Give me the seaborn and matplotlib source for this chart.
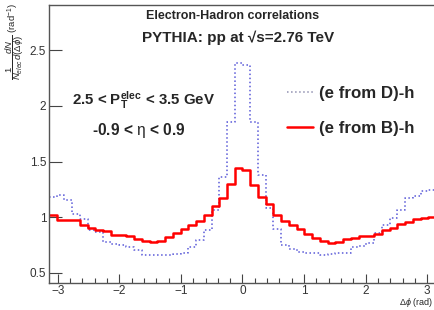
import numpy as np
import pandas as pd
import matplotlib
matplotlib.use("Agg")
import matplotlib.pyplot as plt
import seaborn as sns
from matplotlib.lines import Line2D
from matplotlib.ticker import MultipleLocator, FuncFormatter

# 50 bins over [-pi, pi]
n_bins = 50
edges = np.linspace(-np.pi, np.pi, n_bins + 1)
centers = 0.5 * (edges[:-1] + edges[1:])

# (e from B)-h
b_vals = [1.02, 0.975, 0.975, 0.97, 0.93, 0.90, 0.885, 0.875, 0.835, 0.835,
          0.83, 0.80, 0.785, 0.78, 0.785, 0.82, 0.855, 0.89, 0.93, 0.965,
          1.02, 1.10, 1.17, 1.30, 1.44, 1.42, 1.285, 1.178, 1.12, 1.02,
          0.965, 0.929, 0.893, 0.845, 0.809, 0.788, 0.767, 0.779, 0.80, 0.809,
          0.833, 0.827, 0.845, 0.884, 0.905, 0.935, 0.959, 0.98, 0.995, 1.004]
# (e from D)-h
d_vals = [1.178, 1.199, 1.15, 1.025, 0.985, 0.885, 0.87, 0.78, 0.758, 0.749,
          0.734, 0.704, 0.66, 0.66, 0.66, 0.66, 0.668, 0.68, 0.734, 0.794,
          0.884, 1.064, 1.363, 1.858, 2.383, 2.368, 1.858, 1.379, 1.079, 0.89,
          0.749, 0.713, 0.683, 0.674, 0.674, 0.659, 0.668, 0.68, 0.68, 0.728,
          0.74, 0.77, 0.854, 0.929, 0.989, 1.064, 1.175, 1.19, 1.235, 1.244]

labels = ["(e from D)-h", "(e from B)-h"]

df = pd.DataFrame({'dphi': centers, 'B': b_vals, 'D': d_vals})

sns.set_style("white")
plt.rcParams['font.family'] = ['Liberation Sans', 'DejaVu Sans']
plt.rcParams['mathtext.fontset'] = 'custom'
plt.rcParams['mathtext.rm'] = 'Liberation Sans'
plt.rcParams['mathtext.bf'] = 'Liberation Sans:bold'
plt.rcParams['mathtext.it'] = 'Liberation Sans:italic'

W, H = 435, 310
fig = plt.figure(figsize=(W / 100, H / 100), dpi=100)
ax = fig.add_axes([49 / W, 26.7 / H, 387 / W, 278.6 / H])

blue = '#5a5ad8'
red = '#ff0000'
sns.histplot(data=df, x='dphi', weights='D', bins=list(edges), element="step",
             fill=False, color=blue, linestyle=':', linewidth=1.1, ax=ax)
sns.histplot(data=df, x='dphi', weights='B', bins=list(edges), element="step",
             fill=False, color=red, linewidth=1.8, ax=ax)

ax.set_xlim(-np.pi, np.pi)
ax.set_ylim(0.405, 2.91)
ax.set_xlabel('')
ax.set_ylabel('')
ax.xaxis.set_major_locator(MultipleLocator(1))
ax.xaxis.set_minor_locator(MultipleLocator(0.2))
ax.yaxis.set_major_locator(MultipleLocator(0.5))
ax.yaxis.set_major_formatter(FuncFormatter(lambda v, p: '%g' % v))
ax.tick_params(axis='x', which='major', direction='in', length=6.5, width=0.8,
               color='#444444', labelsize=8.5, labelcolor='#333333', pad=1.5)
ax.tick_params(axis='x', which='minor', direction='in', length=3.5, width=0.8,
               color='#444444')
ax.tick_params(axis='y', which='major', direction='in', length=9, width=0.8,
               color='#444444', labelsize=8.5, labelcolor='#333333', pad=2)
ax.tick_params(bottom=True, left=True, which='both')
for s in ax.spines.values():
    s.set_color('#555555')
    s.set_linewidth(1.0)

fig.text(233 / W, 1 - 16 / H, 'Electron-Hadron correlations', ha='center',
         va='center', fontsize=9, fontweight='bold')
fig.text(238 / W, 1 - 38 / H, 'PYTHIA: pp at √s=2.76 TeV', ha='center',
         va='center', fontsize=11, fontweight='bold')
fig.text(72 / W, 1 - 100 / H, r'2.5 < $\mathbf{P_T^{elec}}$ < 3.5 GeV', ha='left',
         va='center', fontsize=10.8, fontweight='bold')
fig.text(92 / W, 1 - 130 / H, r'-0.9 < $\mathrm{\eta}$ < 0.9', ha='left',
         va='center', fontsize=11.2, fontweight='bold')

fig.text(15 / W, 1 - 3 / H,
         r'$\dfrac{1}{N_{elec}}\dfrac{dN}{d(\Delta\phi)}$ (rad$^{-1}$)',
         rotation=90, ha='center', va='top', fontsize=6.8)
fig.text(433 / W, 1 - 309 / H, r'$\Delta\phi$ (rad)', ha='right', va='bottom',
         fontsize=6.5)

handles = [Line2D([], [], color='#9090b0', linestyle=':', linewidth=1.1),
           Line2D([], [], color=red, linewidth=1.8)]
ax.legend(handles, labels, loc='upper left', bbox_to_anchor=(272 / W, 1 - 71 / H),
          bbox_transform=fig.transFigure, frameon=False,
          prop={'weight': 'bold', 'size': 12.2}, handlelength=1.5,
          handletextpad=0.4, labelspacing=1.15)

fig.savefig('out.png', dpi=100)
